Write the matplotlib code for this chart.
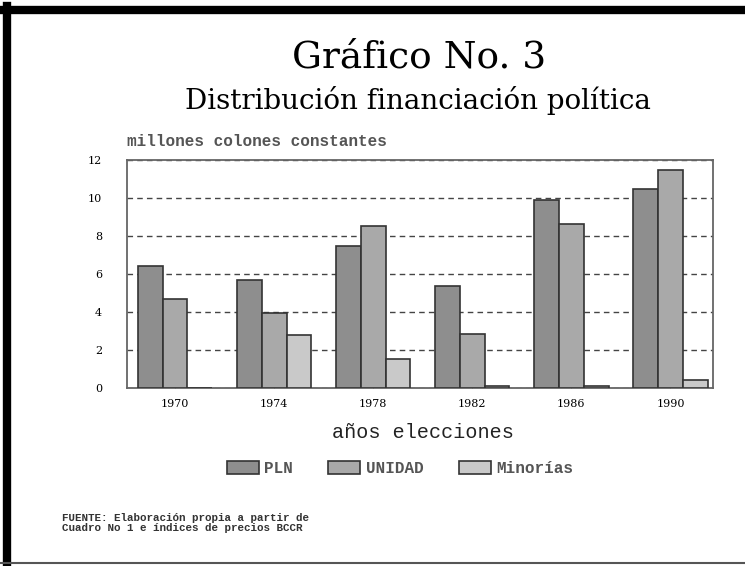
import matplotlib.pyplot as plt
import numpy as np
from matplotlib.patches import Patch
from matplotlib.lines import Line2D

# Data
years = ['1970', '1974', '1978', '1982', '1986', '1990']
pln = [6.4, 5.7, 7.45, 5.35, 9.9, 10.45]
unidad = [4.7, 3.95, 8.55, 2.85, 8.65, 11.45]
minorias = [0.0, 2.8, 1.55, 0.08, 0.08, 0.4]
series_names = ['PLN', 'UNIDAD', 'Minorías']
colors = ['#8e8e8e', '#a9a9a9', '#c9c9c9']

plt.rcParams['font.family'] = ['DejaVu Serif']
mono = ['Liberation Mono', 'DejaVu Sans Mono']

fig = plt.figure(figsize=(7.45, 5.66), dpi=100)
ax = fig.add_axes([0.1705, 0.3145, 0.7866, 0.4028])

x = np.arange(len(years))
width = 0.25
for i, vals in enumerate([pln, unidad, minorias]):
    ax.bar(x + (i - 1) * width, vals, width, color=colors[i],
           edgecolor='#333333', linewidth=1.2, zorder=3)

ax.set_xlim(-0.485, 5.43)
ax.set_ylim(0, 12)
ax.set_yticks(range(0, 13, 2))
ax.set_xticks(x)
ax.set_xticklabels(years, fontsize=8)
ax.tick_params(axis='y', length=0, labelsize=8, pad=18)
ax.tick_params(axis='x', direction='in', length=4, color='#333333', pad=8)
ax.yaxis.grid(True, linestyle=(0, (4, 3)), color='#444444', linewidth=1.0, zorder=0)
for s in ax.spines.values():
    s.set_color('#666666')
    s.set_linewidth(1.3)

fig.text(0.171, 0.737, 'millones colones constantes', fontsize=11.5, family=mono,
         fontweight='bold', color='#555555', ha='left', va='bottom')
fig.text(0.563, 0.898, 'Gráfico No. 3', fontsize=27, ha='center', va='center')
fig.text(0.561, 0.822, 'Distribución financiación política', fontsize=20,
         ha='center', va='center')
fig.text(0.568, 0.236, 'años elecciones', fontsize=14.5, family=mono,
         color='#222222', ha='center', va='center')

handles = [Patch(facecolor=colors[i], edgecolor='#333333', linewidth=1.2)
           for i in range(3)]
fig.legend(handles, series_names, loc='center', bbox_to_anchor=(0.537, 0.172),
           ncol=3, frameon=False, handlelength=2.0, handleheight=0.85,
           columnspacing=2.2, handletextpad=0.35,
           prop={'family': mono, 'size': 11.5, 'weight': 'bold'},
           labelcolor='#555555')

fig.text(0.083, 0.076, 'FUENTE: Elaboración propia a partir de\nCuadro No 1 e índices de precios BCCR',
         fontsize=7.8, family=mono, fontweight='bold', color='#333333',
         ha='left', va='center', linespacing=1.0)

# outer frame
fig.add_artist(Line2D([0.0, 1.0], [0.982, 0.982], color='black', linewidth=6,
                      transform=fig.transFigure))
fig.add_artist(Line2D([0.0095, 0.0095], [0.0, 0.99], color='black', linewidth=6,
                      transform=fig.transFigure))
fig.add_artist(Line2D([0.0, 1.0], [0.006, 0.006], color='#555555', linewidth=1.5,
                      transform=fig.transFigure))

fig.savefig('out.png', dpi=100)
